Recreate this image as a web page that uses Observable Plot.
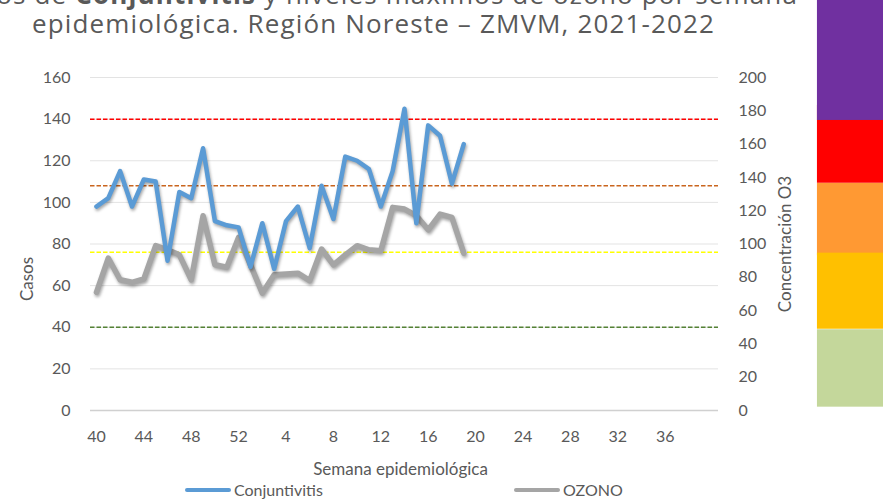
<!DOCTYPE html>
<html>
<head>
<meta charset="utf-8">
<script src="https://cdn.jsdelivr.net/npm/d3@7"></script>
<script src="https://cdn.jsdelivr.net/npm/@observablehq/plot@0.6"></script>
<style>
  html, body { margin: 0; padding: 0; background: #fff; }
  body { width: 883px; height: 500px; overflow: hidden; position: relative; font-family: Lato, "Open Sans", sans-serif; }
  #chart { position: absolute; left: 0; top: 0; }
  .tline { position: absolute; white-space: nowrap; font-family: "Open Sans", sans-serif; font-size: 26px; line-height: 26px; color: #595959; z-index: 2; }
  #t1 { top: -19px; }
  #t2 { top: 10px; }
  .leg { position: absolute; top: 480px; height: 20px; display: flex; align-items: center; font-size: 16px; line-height: 18px; color: #595959; font-family: Lato, sans-serif; }
  .sw { width: 46px; height: 4px; border-radius: 2px; margin-right: 3px; }
</style>
</head>
<body>
<div id="t1" class="tline">Casos de <b>Conjuntivitis</b> y niveles máximos de ozono por semana</div>
<div id="t2" class="tline">epidemiológica. Región Noreste – ZMVM, 2021-2022</div>
<div id="chart"></div>
<div class="leg" style="left:185px"><div class="sw" style="background:#5B9BD5"></div><span>Conjuntivitis</span></div>
<div class="leg" style="left:514px"><div class="sw" style="background:#A5A5A5"></div><span>OZONO</span></div>
<script>
// ---- Data ----
const weeks = [40,41,42,43,44,45,46,47,48,49,50,51,52,
  1,2,3,4,5,6,7,8,9,10,11,12,13,14,15,16,17,18,19,20,21,22,23,24,25,26,27,28,29,30,31,32,33,34,35,36,37,38,39,40];
const xTickWeeks = [40,44,48,52,4,8,12,16,20,24,28,32,36];
const conjuntivitis = [98,102,115,98,111,110,72,105,102,126,91,89,88,69,90,68,91,98,78,108,92,122,120,116,98,115,145,90,137,132,109,128];
const ozono = [71,91.5,78.5,77,79,99,96.5,93.5,78.5,117,87.5,86,104,87.5,70.5,81.5,82,82.5,78,97,87.5,93.5,99,96.5,96,122,121,117,108.5,118,116,94.5];
const casosTicks = [0,20,40,60,80,100,120,140,160];
const o3Ticks = [0,20,40,60,80,100,120,140,160,180,200];
const o3Thresholds = [50,95,135,175];
const thresholdColors = ["#548235","#FFFF00","#C9651E","#FF0000"];
const bandNames = ["Buena","Mala","Regular","Muy mala","Extremadamente mala"];
const bandLow = [2,93,48.8,136.5,174.2];
const bandHigh = [48.5,136.5,94.5,183.2,260];
const bandColors = ["#C4D79B","#FF9933","#FFC000","#FF0000","#7030A0"];

// ---- Derived tables ----
const K = 160 / 200; // O3 units -> Casos units (secondary axis)
const conjData = conjuntivitis.map((v, i) => ({i, v, week: weeks[i]}));
const o3Data = ozono.map((v, i) => ({i, v: v * K, week: weeks[i]}));
const thrData = o3Thresholds.map((t, k) => ({y: t * K, color: thresholdColors[k]}));
const bands = bandNames.map((n, k) => ({n, y1: bandLow[k] * K, y2: bandHigh[k] * K, color: bandColors[k]}));
const tickIdx = xTickWeeks.map(w => weeks.indexOf(w));

const txt = "#595959";
const plot = Plot.plot({
  width: 883,
  height: 500,
  marginLeft: 90,
  marginRight: 165,
  marginTop: 77,
  marginBottom: 90,
  style: {background: "transparent", fontFamily: "Lato, sans-serif", fontSize: "16px", color: txt, overflow: "visible"},
  x: {type: "linear", domain: [-0.5, weeks.length - 0.5]},
  y: {domain: [0, 160]},
  marks: [
    Plot.ruleY(casosTicks.slice(1), {stroke: "#E3E3E3", strokeWidth: 1}),
    Plot.ruleY([0], {stroke: "#D0D0D0", strokeWidth: 1.3}),
    Plot.ruleY(thrData, {y: "y", stroke: "color", strokeWidth: 1.5, strokeDasharray: "4.5,2"}),
    Plot.rect(bands, {x1: 60.85, x2: 66.5, y1: "y1", y2: "y2", fill: "color"}),
    Plot.line(o3Data, {x: "i", y: "v", stroke: "#A5A5A5", strokeWidth: 5.5, strokeLinejoin: "round", strokeLinecap: "round"}),
    Plot.line(conjData, {x: "i", y: "v", stroke: "#5B9BD5", strokeWidth: 4.5, strokeLinejoin: "round", strokeLinecap: "round"}),
    Plot.axisX(tickIdx, {tickSize: 0, tickPadding: 20, tickFormat: i => weeks[i], label: null, fill: txt, fontSize: 16}),
    Plot.axisY(casosTicks, {anchor: "left", tickSize: 0, tickPadding: 20, label: null, fill: txt, fontSize: 16}),
    Plot.axisY(o3Ticks.map(d => d * K), {anchor: "right", tickSize: 0, tickPadding: 20, tickFormat: d => Math.round(d / K), label: null, fill: txt, fontSize: 16}),
    Plot.text(["Casos"], {frameAnchor: "left", textAnchor: "middle", lineAnchor: "middle", dx: -63, dy: 35, rotate: -90, fill: txt, fontSize: 17}),
    Plot.text(["Concentración O3"], {frameAnchor: "right", textAnchor: "middle", lineAnchor: "middle", dx: 67, dy: 0, rotate: -90, fill: txt, fontSize: 17}),
    Plot.text(["Semana epidemiológica"], {frameAnchor: "bottom", textAnchor: "middle", lineAnchor: "middle", dx: -4, dy: 59, fill: txt, fontSize: 17})
  ]
});
document.getElementById("chart").appendChild(plot);
plot.querySelectorAll('g[aria-label="line"]').forEach(g => {
  g.style.filter = "drop-shadow(1px 2px 1.5px rgba(0,0,0,0.35))";
});

// ---- Title fitting ----
function fitTitle() {
  const t1 = document.getElementById("t1"), t2 = document.getElementById("t2");
  t1.style.letterSpacing = t2.style.letterSpacing = "0px";
  const w = t2.getBoundingClientRect().width;
  const ls = (683 - w) / t2.textContent.length;
  t1.style.letterSpacing = t2.style.letterSpacing = ls + "px";
  t2.style.left = "32px";
  t1.style.left = (798 - t1.getBoundingClientRect().width) + "px";
}
fitTitle();
if (document.fonts && document.fonts.ready) document.fonts.ready.then(fitTitle);
</script>
</body>
</html>
